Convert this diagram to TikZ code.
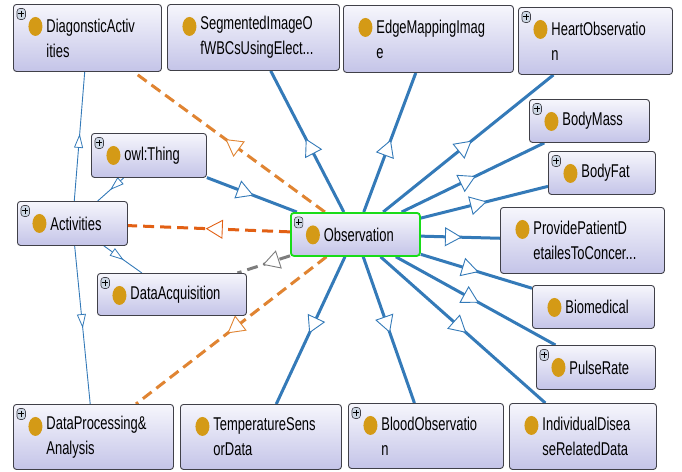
\documentclass[tikz,border=0pt]{standalone}
\usepackage{fontspec}
\setmainfont{Liberation Sans}[FakeStretch=0.70]
\usepackage{tikz}
\usetikzlibrary{arrows.meta,decorations.markings,backgrounds}

\definecolor{obsblue}{RGB}{52,122,184}
\definecolor{actorange}{RGB}{226,96,20}
\definecolor{proporange}{RGB}{224,132,50}
\definecolor{dashgray}{RGB}{125,125,125}
\definecolor{boxline}{RGB}{64,64,72}
\definecolor{boxtop}{RGB}{246,246,252}
\definecolor{boxbot}{RGB}{196,196,232}
\definecolor{dotcol}{RGB}{212,154,22}
\definecolor{selgreen}{RGB}{24,220,24}
\definecolor{plusfill}{RGB}{205,215,228}

\newcommand\classdot{\fill[dotcol] ([shift={(22pt,-22pt)}]path picture bounding box.north west) ellipse [x radius=7pt, y radius=9.5pt];}
\newcommand\plusicon{\draw[boxline, fill=plusfill, line width=0.6pt] ([shift={(3.5pt,-4pt)}]path picture bounding box.north west) rectangle +(8.5pt,-11pt);
    \draw[black, line width=1pt] ([shift={(4.75pt,-9.5pt)}]path picture bounding box.north west) -- +(6pt,0pt)
        ([shift={(7.75pt,-6.5pt)}]path picture bounding box.north west) -- +(0pt,-6pt);}

\begin{document}
\begin{tikzpicture}[x=1pt, y=-1pt,
        font=\fontsize{18.5pt}{25pt}\selectfont,
        cls/.style={draw=boxline, line width=0.9pt, rounded corners=3pt,
            top color=boxtop, bottom color=boxbot, anchor=north west,
            inner xsep=0pt, inner ysep=0pt, align=left,
            execute at begin node={\leftskip=33pt},
            path picture={\classdot}},
        clsp/.style={cls, path picture={\classdot\plusicon}},
        isa/.style={color=obsblue, line width=3pt, postaction={decorate},
            decoration={markings, mark=at position 0.52 with {\arrow{Triangle[fill=white, line width=0.9pt, length=17pt, width=19pt]}}}},
        isathin/.style={color=obsblue, line width=0.9pt, postaction={decorate},
            decoration={markings, mark=at position 0.52 with {\arrow{Triangle[fill=white, line width=0.8pt, length=14pt, width=9pt]}}}},
        prop/.style={color=proporange, line width=3pt, dash pattern=on 11pt off 6pt, postaction={decorate},
            decoration={markings, mark=at position 0.52 with {\pgfsetdash{}{0pt}\arrow{Triangle[fill=white, line width=0.9pt, length=17pt, width=19pt]}}}}]
    \useasboundingbox (0,0) rectangle (682,471);

    % classes
    \node[clsp, text width=148pt, minimum height=67pt] (diag) at (13,4) {DiagonsticActiv\\ities};
    \node[cls, text width=172pt, minimum height=66pt] (seg) at (167,4) {SegmentedImageO\\fWBCsUsingElect...};
    \node[cls, text width=170pt, minimum height=67pt] (edge) at (343,5) {EdgeMappingImag\\e};
    \node[clsp, text width=154pt, minimum height=67pt] (heart) at (518,7) {HeartObservatio\\n};
    \node[clsp, text width=120pt, minimum height=43pt] (bmass) at (529,99) {BodyMass};
    \node[clsp, text width=107pt, minimum height=43pt] (bfat) at (548,151) {BodyFat};
    \node[cls, text width=164pt, minimum height=66pt] (prov) at (500,207) {ProvidePatientD\\etailesToConcer...};
    \node[cls, text width=122pt, minimum height=43pt] (biomed) at (532,285) {Biomedical};
    \node[clsp, text width=119pt, minimum height=44pt] (pulse) at (536,345) {PulseRate};
    \node[cls, text width=147pt, minimum height=66pt] (idd) at (509,403) {IndividualDisea\\seRelatedData};
    \node[clsp, text width=155pt, minimum height=65pt] (blood) at (348,403) {BloodObservatio\\n};
    \node[cls, text width=161pt, minimum height=65pt] (temp) at (180,404) {TemperatureSens\\orData};
    \node[clsp, text width=160pt, minimum height=65pt] (dproc) at (13,404) {DataProcessing\&\\Analysis};
    \node[clsp, text width=149pt, minimum height=42pt] (dacq) at (97,273) {DataAcquisition};
    \node[clsp, text width=110pt, minimum height=44pt] (act) at (17,201) {Activities};
    \node[clsp, text width=115pt, minimum height=44pt] (thing) at (91,133) {owl:Thing};
    \node[clsp, draw=selgreen, line width=1.8pt, text width=129pt, minimum height=43pt] (obs) at (290,212) {Observation};

    % links
    \begin{scope}[on background layer]
        \foreach \t in {seg,edge,heart,bmass,bfat,prov,biomed,pulse,idd,blood,temp}
            \draw[isa] (obs) -- (\t);
        \draw[isa] (thing) -- (obs);
        \draw[isathin] (thing) -- (act);
        \foreach \t in {diag,dacq,dproc}
            \draw[isathin] (act) -- (\t);
        \draw[prop, color=actorange] (obs) -- (act);
        \draw[prop] (obs) -- (diag);
        \draw[prop] (obs) -- (dproc);
        \draw[prop, color=dashgray] (obs) -- (dacq);
    \end{scope}
\end{tikzpicture}
\end{document}
